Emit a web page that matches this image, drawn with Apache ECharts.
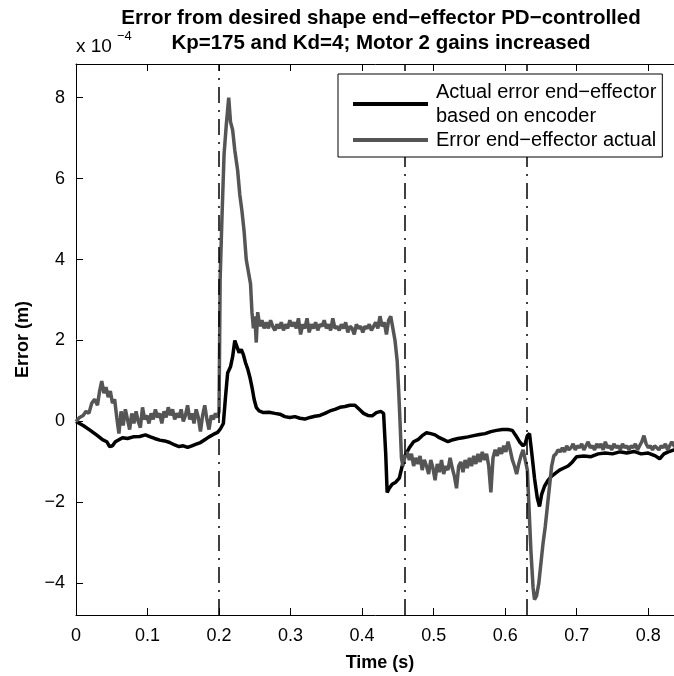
<!DOCTYPE html>
<html>
<head>
<meta charset="utf-8">
<script src="https://cdn.jsdelivr.net/npm/echarts@6/dist/echarts.min.js"></script>
<style>
  html, body { margin: 0; padding: 0; background: #ffffff; }
  #chart { width: 674px; height: 676px; }
</style>
</head>
<body>
<div id="chart"></div>
<script>
// Error values are in units of 1e-4 m (axis multiplier shown as "x 10^-4").

// End-effector error computed from the encoders (black trace)
const encoderTime = [
  0.000, 0.010, 0.020, 0.030, 0.037, 0.043, 0.047, 0.051, 0.055, 0.060,
  0.065, 0.072, 0.080, 0.089, 0.097, 0.104, 0.110, 0.117, 0.124, 0.131,
  0.138, 0.144, 0.150, 0.156, 0.162, 0.168, 0.174, 0.180, 0.186, 0.192,
  0.198, 0.202, 0.206, 0.209, 0.212, 0.216, 0.219, 0.222, 0.225, 0.228,
  0.231, 0.234, 0.237, 0.240, 0.243, 0.246, 0.249, 0.252, 0.256, 0.262,
  0.270, 0.278, 0.285, 0.292, 0.299, 0.306, 0.313, 0.320, 0.327, 0.334,
  0.341, 0.348, 0.355, 0.362, 0.369, 0.376, 0.383, 0.390, 0.396, 0.402,
  0.408, 0.414, 0.420, 0.426, 0.430, 0.433, 0.435, 0.438, 0.442, 0.447,
  0.452, 0.456, 0.460, 0.466, 0.472, 0.478, 0.484, 0.490, 0.496, 0.502,
  0.508, 0.514, 0.520, 0.527, 0.534, 0.541, 0.548, 0.556, 0.564, 0.572,
  0.580, 0.588, 0.596, 0.604, 0.610, 0.615, 0.620, 0.625, 0.628, 0.631,
  0.634, 0.637, 0.641, 0.645, 0.648, 0.651, 0.655, 0.660, 0.665, 0.670,
  0.676, 0.682, 0.688, 0.694, 0.700, 0.710, 0.720, 0.730, 0.740, 0.750,
  0.760, 0.770, 0.780, 0.790, 0.800, 0.810, 0.816, 0.822, 0.828, 0.836,
  0.843, 0.850
];
const encoderError = [
   0.00, -0.10, -0.22, -0.35, -0.45, -0.50, -0.62, -0.60, -0.50, -0.45,
  -0.40, -0.42, -0.38, -0.37, -0.33, -0.38, -0.42, -0.46, -0.48, -0.52,
  -0.58, -0.62, -0.60, -0.64, -0.60, -0.56, -0.52, -0.45, -0.38, -0.32,
  -0.27, -0.18, -0.05,  0.60,  1.20,  1.35,  1.60,  2.00,  1.85,  1.70,
   1.78,  1.65,  1.45,  1.30,  1.10,  0.85,  0.55,  0.35,  0.26,  0.22,
   0.23,  0.20,  0.18,  0.12,  0.10,  0.12,  0.08,  0.06,  0.10,  0.13,
   0.15,  0.20,  0.26,  0.30,  0.35,  0.37,  0.40,  0.40,  0.30,  0.20,
   0.15,  0.14,  0.22,  0.25,  0.20, -0.80, -1.75, -1.65, -1.55, -1.50,
  -1.40, -1.10, -0.85, -0.65, -0.50, -0.45, -0.35, -0.28, -0.30, -0.33,
  -0.40, -0.45, -0.50, -0.45, -0.42, -0.40, -0.38, -0.35, -0.32, -0.30,
  -0.25, -0.22, -0.20, -0.20, -0.22, -0.35, -0.50, -0.60, -0.55, -0.35,
  -0.30, -0.75, -1.40, -1.90, -2.10, -1.80, -1.60, -1.45, -1.35, -1.28,
  -1.20, -1.15, -1.10, -1.00, -0.87, -0.85, -0.87, -0.80, -0.78, -0.80,
  -0.75, -0.78, -0.74, -0.80, -0.78, -0.85, -0.92, -0.80, -0.75, -0.70,
  -0.74, -0.72
];

// Measured end-effector error (grey trace)
const actualTime = [
  0.000, 0.005, 0.010, 0.014, 0.018, 0.022, 0.026, 0.030, 0.033, 0.036,
  0.039, 0.042, 0.045, 0.048, 0.051, 0.054, 0.057, 0.060, 0.063, 0.066,
  0.069, 0.072, 0.075, 0.078, 0.081, 0.084, 0.087, 0.090, 0.093, 0.096,
  0.099, 0.102, 0.105, 0.108, 0.111, 0.114, 0.117, 0.120, 0.123, 0.126,
  0.129, 0.132, 0.135, 0.138, 0.141, 0.144, 0.147, 0.150, 0.153, 0.156,
  0.159, 0.162, 0.165, 0.168, 0.171, 0.174, 0.177, 0.180, 0.183, 0.186,
  0.189, 0.192, 0.195, 0.198, 0.200, 0.2015, 0.204, 0.207, 0.210, 0.2135,
  0.216, 0.219, 0.222, 0.226, 0.229, 0.232, 0.235, 0.238, 0.241, 0.244,
  0.246, 0.248, 0.250, 0.252, 0.254, 0.257, 0.260, 0.263, 0.266, 0.269,
  0.272, 0.275, 0.278, 0.281, 0.284, 0.287, 0.290, 0.293, 0.296, 0.299,
  0.302, 0.305, 0.308, 0.311, 0.314, 0.317, 0.320, 0.323, 0.326, 0.329,
  0.332, 0.335, 0.338, 0.341, 0.344, 0.347, 0.350, 0.353, 0.356, 0.359,
  0.362, 0.365, 0.368, 0.371, 0.374, 0.377, 0.380, 0.383, 0.386, 0.389,
  0.392, 0.395, 0.398, 0.401, 0.404, 0.407, 0.410, 0.413, 0.416, 0.419,
  0.422, 0.425, 0.428, 0.431, 0.434, 0.437, 0.440, 0.443, 0.446, 0.449,
  0.451, 0.453, 0.455, 0.457, 0.460, 0.463, 0.466, 0.469, 0.472, 0.475,
  0.478, 0.481, 0.484, 0.487, 0.490, 0.493, 0.496, 0.499, 0.502, 0.505,
  0.508, 0.511, 0.514, 0.517, 0.520, 0.523, 0.526, 0.529, 0.532, 0.535,
  0.538, 0.541, 0.544, 0.547, 0.550, 0.553, 0.556, 0.559, 0.562, 0.565,
  0.568, 0.571, 0.574, 0.577, 0.580, 0.583, 0.586, 0.589, 0.592, 0.595,
  0.598, 0.601, 0.604, 0.607, 0.610, 0.613, 0.616, 0.619, 0.622, 0.625,
  0.628, 0.631, 0.633, 0.636, 0.639, 0.641, 0.644, 0.647, 0.650, 0.653,
  0.656, 0.659, 0.662, 0.665, 0.668, 0.671, 0.674, 0.677, 0.680, 0.683,
  0.686, 0.689, 0.692, 0.695, 0.698, 0.701, 0.704, 0.707, 0.710, 0.713,
  0.716, 0.719, 0.722, 0.725, 0.728, 0.731, 0.734, 0.737, 0.740, 0.743,
  0.746, 0.749, 0.752, 0.755, 0.758, 0.761, 0.764, 0.767, 0.770, 0.773,
  0.776, 0.779, 0.782, 0.785, 0.788, 0.791, 0.794, 0.797, 0.800, 0.803,
  0.806, 0.809, 0.812, 0.815, 0.818, 0.821, 0.824, 0.827, 0.830, 0.833,
  0.836, 0.840, 0.844, 0.848, 0.850
];
const actualError = [
   0.00,  0.10,  0.15,  0.25,  0.20,  0.45,  0.55,  0.40,  0.75,  1.00,
   0.70,  0.85,  0.60,  0.75,  0.45,  0.55,  0.10, -0.30,  0.25, -0.10,
   0.30,  0.05, -0.20,  0.20, -0.05,  0.25,  0.00, -0.15,  0.35,  0.05,
   0.15, -0.05,  0.20,  0.05,  0.30,  0.10,  0.20, -0.05,  0.25,  0.10,
   0.35,  0.15,  0.30,  0.05,  0.20,  0.10,  0.30,  0.00,  0.15,  0.40,
   0.05,  0.20, -0.05,  0.30,  0.10, -0.25,  0.15,  0.40,  0.05, -0.20,
   0.15,  0.05,  0.20,  0.10,  0.25,  3.50,  5.00,  6.60,  7.30,  8.00,
   7.40,  7.20,  6.70,  6.20,  5.60,  5.20,  4.70,  4.00,  3.70,  3.40,
   2.70,  2.30,  2.60,  1.95,  2.70,  2.35,  2.50,  2.30,  2.45,  2.30,
   2.50,  2.35,  2.25,  2.40,  2.30,  2.45,  2.25,  2.40,  2.30,  2.50,
   2.35,  2.45,  2.30,  2.55,  2.15,  2.40,  2.30,  2.55,  2.20,  2.40,
   2.30,  2.45,  2.25,  2.40,  2.35,  2.50,  2.30,  2.40,  2.25,  2.55,
   2.30,  2.35,  2.25,  2.40,  2.30,  2.45,  2.20,  2.35,  2.30,  2.15,
   2.40,  2.30,  2.35,  2.20,  2.35,  2.30,  2.40,  2.25,  2.35,  2.45,
   2.30,  2.60,  2.35,  2.45,  2.15,  2.50,  2.60,  2.30,  2.00,  1.50,
   0.80,  0.00, -0.90, -1.10, -0.85, -0.75, -0.95, -0.80, -1.10, -0.90,
  -1.05, -0.85, -1.20, -0.95, -1.10, -1.30, -0.95, -1.15, -1.45, -1.05,
  -1.25, -0.95, -1.30, -1.10, -1.20, -0.90, -1.15, -1.35, -1.65, -1.10,
  -1.00, -1.25, -0.95, -1.15, -0.90, -1.10, -0.85, -1.05, -0.80, -1.00,
  -0.75, -0.95, -0.80, -1.10, -1.75, -0.90, -0.70, -0.85, -0.65, -0.80,
  -0.60, -0.75, -0.50, -0.70, -0.95, -1.10, -1.30, -1.05, -0.85, -0.70,
  -0.95, -1.20, -2.00, -3.20, -4.10, -4.40, -4.30, -4.00, -3.50, -3.00,
  -2.60, -2.10, -1.60, -1.10, -0.85, -0.80, -0.70, -0.75, -0.65, -0.75,
  -0.60, -0.70, -0.65, -0.55, -0.70, -0.60, -0.65, -0.55, -0.70, -0.60,
  -0.50, -0.65, -0.60, -0.70, -0.55, -0.65, -0.55, -0.70, -0.50, -0.65,
  -0.60, -0.70, -0.55, -0.65, -0.60, -0.70, -0.55, -0.65, -0.60, -0.70,
  -0.60, -0.65, -0.55, -0.70, -0.60, -0.50, -0.35, -0.55, -0.65, -0.60,
  -0.70, -0.60, -0.65, -0.70, -0.60, -0.65, -0.55, -0.70, -0.60, -0.50,
  -0.60, -0.65, -0.55, -0.65, -0.60
];

// Instants where the controller changes phase (dash-dot markers)
const eventTimes = [0.200, 0.455, 0.630];

const legendNames = [
  'Actual error end\u2212effector\nbased on encoder',
  'Error end\u2212effector actual'
];
const titleLines = [
  'Error from desired shape end\u2212effector PD\u2212controlled',
  'Kp=175 and Kd=4; Motor 2 gains increased'
];

const FONT = '"Liberation Sans", Arial, Helvetica, sans-serif';
const zip = (xs, ys) => xs.map((x, i) => [x, ys[i]]);
const minusSign = v => String(v).replace('-', '\u2212');

const chart = echarts.init(document.getElementById('chart'), null, { renderer: 'canvas' });

const tickCommon = { show: true, inside: true, length: 7, lineStyle: { color: '#000', width: 1 } };
const lineCommon = { show: true, onZero: false, lineStyle: { color: '#000', width: 1 } };

chart.setOption({
  animation: false,
  backgroundColor: '#ffffff',
  textStyle: { fontFamily: FONT },
  // plot box runs past the right edge of the canvas (t = 0.85 s)
  grid: {
    left: 76, top: 64, bottom: 61, width: 608,
    containLabel: false, outerBoundsMode: 'none'
  },
  xAxis: [
    {
      type: 'value', position: 'bottom', min: 0, max: 0.85, interval: 0.1,
      axisLine: lineCommon, axisTick: tickCommon, splitLine: { show: false },
      axisLabel: { color: '#000', fontSize: 18, fontFamily: FONT, margin: 12, showMaxLabel: false },
      name: 'Time (s)', nameLocation: 'middle', nameGap: 39,
      nameTextStyle: { color: '#000', fontSize: 18, fontWeight: 'bold', fontFamily: FONT }
    },
    {
      type: 'value', position: 'top', min: 0, max: 0.85, interval: 0.1,
      axisLine: lineCommon, axisTick: tickCommon, splitLine: { show: false },
      axisLabel: { show: false }
    }
  ],
  yAxis: [
    {
      type: 'value', position: 'left', min: -4.78, max: 8.83,
      splitNumber: 7, minInterval: 2, maxInterval: 2,
      axisLine: lineCommon, axisTick: tickCommon, splitLine: { show: false },
      axisLabel: {
        color: '#000', fontSize: 18, fontFamily: FONT, margin: 11,
        showMinLabel: false, showMaxLabel: false,
        formatter: v => minusSign(v)
      },
      name: 'Error (m)', nameLocation: 'middle', nameGap: 44,
      nameTextStyle: { color: '#000', fontSize: 18, fontWeight: 'bold', fontFamily: FONT }
    }
  ],
  legend: {
    orient: 'vertical', left: 338, top: 74, z: 20,
    backgroundColor: '#ffffff', borderColor: '#000', borderWidth: 1,
    padding: [6, 6, 5, 15], itemGap: 0,
    itemWidth: 75, itemHeight: 4, icon: 'rect',
    textStyle: { color: '#000', fontSize: 20, fontFamily: FONT, lineHeight: 24, padding: [0, 0, 0, 3] },
    data: legendNames
  },
  graphic: [
    { type: 'text', x: 381, y: 18, style: { text: titleLines[0], fill: '#000', font: 'bold 20.5px ' + FONT, textAlign: 'center', textVerticalAlign: 'middle' } },
    { type: 'text', x: 381, y: 43, style: { text: titleLines[1], fill: '#000', font: 'bold 20.5px ' + FONT, textAlign: 'center', textVerticalAlign: 'middle' } },
    { type: 'text', x: 76, y: 47, style: { text: 'x 10', fill: '#000', font: '19px ' + FONT, textAlign: 'left', textVerticalAlign: 'middle' } },
    { type: 'text', x: 117, y: 36, style: { text: '\u22124', fill: '#000', font: '13px ' + FONT, textAlign: 'left', textVerticalAlign: 'middle' } }
  ],
  series: [
    {
      name: legendNames[0], type: 'line', data: zip(encoderTime, encoderError),
      showSymbol: false, symbol: 'none', clip: true,
      lineStyle: { color: '#000000', width: 3.5 }, itemStyle: { color: '#000000' },
      markLine: {
        silent: true, symbol: ['none', 'none'], label: { show: false },
        lineStyle: { color: '#000', width: 1.5, type: [16, 7, 2, 7] },
        data: eventTimes.map(t => ({ xAxis: t }))
      },
      z: 2
    },
    {
      name: legendNames[1], type: 'line', data: zip(actualTime, actualError),
      showSymbol: false, symbol: 'none', clip: true,
      lineStyle: { color: '#555555', width: 3.5 }, itemStyle: { color: '#555555' },
      z: 3
    }
  ]
});
</script>
</body>
</html>
